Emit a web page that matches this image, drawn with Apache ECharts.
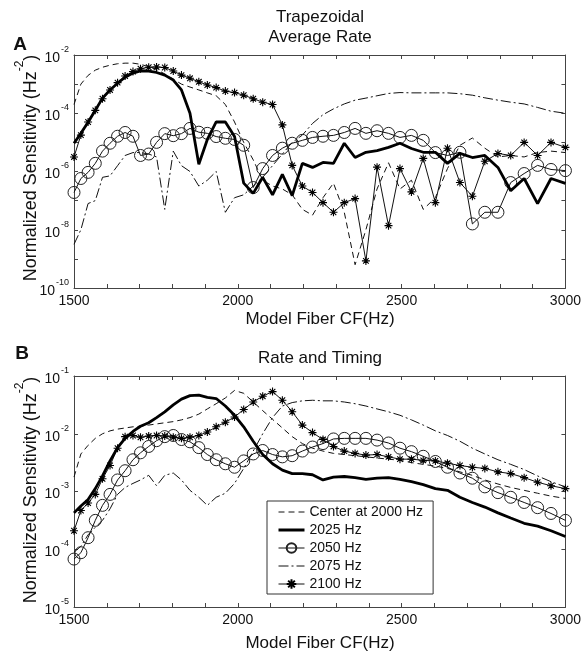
<!DOCTYPE html>
<html>
<head>
<meta charset="utf-8">
<script src="https://cdn.jsdelivr.net/npm/echarts@6/dist/echarts.min.js"></script>
<style>
  html, body { margin: 0; padding: 0; background: #fff; }
  #chart { width: 584px; height: 656px; }
</style>
</head>
<body>
<div id="chart"></div>
<script>
// Model fibre characteristic frequencies (Hz), shared by every curve
const cf = [1500,1521,1543,1565,1587,1610,1633,1656,1680,1703,1728,1752,1777,1803,1828,1854,1881,1907,1934,1962,
            1990,2018,2047,2076,2106,2136,2166,2197,2228,2260,2292,2325,2358,2391,2425,2460,2495,2530,2566,2603,
            2640,2678,2716,2754,2794,2833,2874,2915,2956,3000];

const xTicks = [1500, 2000, 2500, 3000];
const seriesNames = ['Center at 2000 Hz', '2025 Hz', '2050 Hz', '2075 Hz', '2100 Hz'];

// Panel A — trapezoidal average-rate model, log10 of normalized sensitivity (Hz^-2)
const rateCenter = [-3.7,-3.0,-2.7,-2.52,-2.42,-2.35,-2.3,-2.28,-2.28,-2.32,-2.4,-2.5,-2.65,-2.83,-3.0,-3.1,-3.2,-3.3,-3.4,-3.7,
                    -4.3,-5.0,-5.6,-6.3,-6.5,-6.6,-6.8,-7.3,-7.5,-6.9,-6.4,-7.4,-9.2,-8.0,-6.6,-5.7,-6.6,-6.3,-7.3,-6.9,
                    -5.9,-5.1,-4.85,-5.2,-5.5,-5.45,-5.5,-5.35,-5.3,-5.35];
const rate2025 = [-5.03,-4.69,-4.31,-3.9,-3.48,-3.2,-2.97,-2.76,-2.62,-2.55,-2.55,-2.6,-2.69,-2.86,-3.2,-4.0,-5.75,-4.9,-4.3,-4.3,
                  -4.8,-6.4,-6.75,-6.2,-6.8,-6.1,-6.83,-5.72,-5.86,-5.69,-5.72,-5.03,-5.52,-5.34,-5.28,-5.17,-5.03,-5.21,-5.34,-5.34,
                  -5.72,-5.38,-5.52,-5.45,-5.86,-6.66,-6.24,-7.1,-6.24,-6.41];
const rate2050 = [-6.72,-6.24,-6.03,-5.72,-5.3,-5.03,-4.79,-4.66,-4.79,-5.45,-5.4,-5.0,-4.7,-4.77,-4.7,-4.52,-4.65,-4.69,-4.8,-4.86,
                  -4.9,-5.1,-6.55,-5.9,-5.45,-5.2,-5.03,-4.93,-4.83,-4.79,-4.76,-4.66,-4.52,-4.69,-4.6,-4.69,-4.83,-4.76,-4.93,-5.35,
                  -5.45,-5.34,-7.8,-7.4,-7.4,-6.38,-6.07,-5.79,-5.93,-5.97];
const rate2075 = [-8.5,-8.0,-7.1,-7.0,-6.2,-6.15,-5.8,-5.45,-5.35,-5.35,-5.4,-5.5,-7.3,-5.3,-5.8,-6.0,-6.5,-6.3,-6.0,-7.4,
                  -6.9,-6.8,-6.5,-6.2,-5.8,-5.4,-5.0,-4.75,-4.35,-4.05,-3.85,-3.68,-3.55,-3.48,-3.4,-3.32,-3.29,-3.3,-3.3,-3.3,
                  -3.3,-3.33,-3.38,-3.47,-3.55,-3.62,-3.68,-3.8,-3.93,-4.0];
const rate2100 = [-5.5,-4.75,-4.3,-3.9,-3.5,-3.2,-2.95,-2.72,-2.57,-2.47,-2.42,-2.41,-2.43,-2.55,-2.69,-2.8,-2.92,-3.03,-3.12,-3.24,
                  -3.29,-3.38,-3.5,-3.62,-3.7,-4.4,-5.79,-6.5,-6.72,-7.07,-7.4,-7.07,-6.93,-9.07,-5.85,-7.86,-5.9,-6.7,-5.55,-7.07,
                  -5.2,-6.38,-6.85,-5.65,-5.38,-5.45,-5.0,-5.45,-5.0,-5.17];

// Panel B — rate and timing model, log10 of normalized sensitivity (Hz^-2)
const timingCenter = [-2.75,-2.35,-2.2,-2.08,-2.0,-1.95,-1.92,-1.9,-1.88,-1.87,-1.85,-1.83,-1.81,-1.79,-1.76,-1.72,-1.66,-1.57,-1.48,-1.38,
                      -1.25,-1.3,-1.45,-1.6,-1.75,-1.9,-2.05,-2.17,-2.25,-2.3,-2.34,-2.36,-2.38,-2.4,-2.42,-2.44,-2.46,-2.5,-2.53,-2.56,
                      -2.6,-2.66,-2.72,-2.8,-2.87,-2.93,-2.98,-3.03,-3.08,-3.12];
const timing2025 = [-3.37,-3.25,-3.14,-2.95,-2.73,-2.47,-2.24,-2.08,-1.96,-1.87,-1.81,-1.72,-1.62,-1.5,-1.4,-1.34,-1.33,-1.37,-1.39,-1.52,
                    -1.68,-1.88,-2.13,-2.36,-2.52,-2.63,-2.69,-2.69,-2.71,-2.8,-2.75,-2.74,-2.76,-2.79,-2.77,-2.76,-2.79,-2.83,-2.88,-2.95,
                    -2.98,-3.1,-3.19,-3.27,-3.37,-3.46,-3.55,-3.6,-3.68,-3.78];
const timing2050 = [-4.17,-4.06,-3.8,-3.5,-3.24,-3.05,-2.8,-2.64,-2.45,-2.33,-2.22,-2.12,-2.05,-2.03,-2.1,-2.14,-2.24,-2.36,-2.45,-2.52,
                    -2.58,-2.47,-2.35,-2.29,-2.36,-2.4,-2.38,-2.3,-2.23,-2.17,-2.09,-2.08,-2.08,-2.08,-2.11,-2.16,-2.25,-2.31,-2.39,-2.48,
                    -2.58,-2.68,-2.77,-2.92,-3.02,-3.1,-3.19,-3.28,-3.38,-3.5];
const timing2075 = [-4.05,-3.95,-3.75,-3.62,-3.5,-3.3,-3.05,-2.93,-2.86,-2.8,-2.72,-2.9,-2.72,-2.68,-2.8,-2.98,-3.1,-3.24,-3.1,-3.03,
                    -2.86,-2.6,-2.3,-2.0,-1.72,-1.52,-1.46,-1.43,-1.42,-1.43,-1.43,-1.45,-1.48,-1.52,-1.57,-1.62,-1.68,-1.76,-1.85,-1.95,
                    -2.03,-2.13,-2.25,-2.35,-2.45,-2.53,-2.62,-2.73,-2.83,-2.92];
const timing2100 = [-3.68,-3.33,-3.2,-3.05,-2.78,-2.55,-2.25,-2.05,-2.03,-2.06,-2.04,-2.03,-2.04,-2.06,-2.08,-2.06,-2.03,-1.97,-1.88,-1.8,
                    -1.71,-1.58,-1.45,-1.35,-1.27,-1.42,-1.62,-1.85,-1.98,-2.1,-2.22,-2.3,-2.34,-2.37,-2.36,-2.4,-2.44,-2.44,-2.46,-2.47,
                    -2.51,-2.55,-2.58,-2.6,-2.66,-2.69,-2.76,-2.84,-2.9,-2.95];

const FONT = '"Liberation Sans", Arial, Helvetica, sans-serif';
const INK = '#111';
const FRAME = '#444';
const CLEAR = 'rgba(255,255,255,0)';

// MATLAB-style asterisk marker
const ASTERISK = 'path://M0,-10L0,10M-10,0L10,0M-7,-7L7,7M-7,7L7,-7';

// Plain lines keep an invisible circle symbol so the legend shows only the stroke
const styles = [
  { lineStyle: { width: 1, type: [6, 4], color: INK }, symbol: 'circle', showSymbol: false,
    itemStyle: { color: CLEAR, borderWidth: 0 } },
  { lineStyle: { width: 2.8, color: '#000' }, symbol: 'circle', showSymbol: false,
    itemStyle: { color: CLEAR, borderWidth: 0 } },
  { lineStyle: { width: 1, color: INK }, symbol: 'circle', symbolSize: 12, showSymbol: true,
    itemStyle: { color: CLEAR, borderColor: '#222', borderWidth: 1 } },
  { lineStyle: { width: 1, type: [10, 3, 2, 3], color: INK }, symbol: 'circle', showSymbol: false,
    itemStyle: { color: CLEAR, borderWidth: 0 } },
  { lineStyle: { width: 1, color: INK }, symbol: ASTERISK, symbolSize: 8, showSymbol: true,
    itemStyle: { color: '#000', borderColor: '#000', borderWidth: 1.1 } }
];

function pairs(logVals) {
  return cf.map((f, i) => [f, Math.pow(10, logVals[i])]);
}

function makeSeries(list, axisIndex) {
  return list.map((vals, k) => Object.assign({
    name: seriesNames[k],
    type: 'line',
    xAxisIndex: axisIndex,
    yAxisIndex: axisIndex,
    data: pairs(vals),
    showAllSymbol: true,
    smooth: false,
    animation: false,
    emphasis: { disabled: true },
    z: k === 1 ? 4 : 3
  }, JSON.parse(JSON.stringify(styles[k]))));
}

const supRich = {
  b: { fontSize: 14, fontFamily: FONT, color: INK, lineHeight: 20, verticalAlign: 'bottom' },
  s: { fontSize: 9, fontFamily: FONT, color: INK, lineHeight: 20, verticalAlign: 'top', padding: [0, 0, 0, 1] }
};

function xAxes(gridIndex) {
  const common = {
    type: 'value', gridIndex, min: 1500, max: 3000, interval: 100,
    axisLine: { show: true, onZero: false, lineStyle: { color: FRAME, width: 1 } },
    axisTick: { show: true, inside: true, length: 4, lineStyle: { color: FRAME } },
    splitLine: { show: false }
  };
  return [
    Object.assign({}, common, {
      position: 'bottom',
      axisLabel: {
        show: true, margin: 6, fontSize: 14, fontFamily: FONT, color: INK,
        formatter: v => (xTicks.indexOf(v) >= 0 ? String(v) : '')
      }
    }),
    Object.assign({}, common, { position: 'top', axisLabel: { show: false } })
  ];
}

function yAxes(gridIndex, min, max, labelEvery) {
  const common = {
    type: 'log', logBase: 10, gridIndex, min, max, interval: 1,
    axisLine: { show: true, onZero: false, lineStyle: { color: FRAME, width: 1 } },
    axisTick: { show: true, inside: true, length: 4, lineStyle: { color: FRAME } },
    splitLine: { show: false }
  };
  return [
    Object.assign({}, common, {
      position: 'left',
      axisLabel: {
        show: true, margin: 5,
        formatter: v => {
          const e = Math.round(Math.log10(v));
          return (e % labelEvery === 0) ? '{b|10}{s|' + e + '}' : '';
        },
        rich: supRich
      }
    }),
    Object.assign({}, common, { position: 'right', axisLabel: { show: false } })
  ];
}

const yLabelRich = {
  a: { fontSize: 18, fontFamily: FONT, fill: INK, lineHeight: 26, verticalAlign: 'bottom' },
  s: { fontSize: 12, fontFamily: FONT, fill: INK, lineHeight: 26, verticalAlign: 'top' }
};

function txt(x, y, text, size, extra) {
  return {
    type: 'text', x, y, silent: true,
    style: Object.assign({ text, fontSize: size, fontFamily: FONT, fill: INK, align: 'center', verticalAlign: 'middle' }, extra || {})
  };
}

function yLabel(cy) {
  return {
    type: 'text', x: 27, y: cy, rotation: Math.PI / 2, silent: true,
    style: {
      text: '{a|Normalized Sensitivity (Hz}{s|-2}{a|)}',
      rich: yLabelRich, align: 'center', verticalAlign: 'middle', fill: INK
    }
  };
}

const chart = echarts.init(document.getElementById('chart'), null, { renderer: 'canvas' });

chart.setOption({
  backgroundColor: '#fff',
  animation: false,
  grid: [
    { left: 74, top: 55, width: 493, height: 233, containLabel: false },
    { left: 74, top: 376, width: 493, height: 231, containLabel: false }
  ],
  xAxis: xAxes(0).concat(xAxes(1)),
  yAxis: yAxes(0, 1e-10, 1e-2, 2).concat(yAxes(1, 1e-5, 1e-1, 1)),
  legend: {
    data: seriesNames.map(n => (n === '2025 Hz' ? { name: n, lineStyle: { width: 3 } } : { name: n })),
    orient: 'vertical',
    left: 267, top: 501,
    itemWidth: 26, itemHeight: 12, itemGap: 4,
    padding: [4, 10, 3, 10],
    backgroundColor: '#fff',
    borderColor: '#333', borderWidth: 1,
    lineStyle: { width: 1 },
    textStyle: { fontSize: 14, fontFamily: FONT, color: INK },
    selectedMode: false
  },
  series: makeSeries([rateCenter, rate2025, rate2050, rate2075, rate2100], 0)
    .concat(makeSeries([timingCenter, timing2025, timing2050, timing2075, timing2100], 2)),
  graphic: [
    txt(320, 17, 'Trapezoidal', 17),
    txt(320, 37, 'Average Rate', 17),
    txt(20, 45, 'A', 19, { fontWeight: 'bold' }),
    txt(320, 319, 'Model Fiber CF(Hz)', 17),
    yLabel(168),
    txt(320, 358, 'Rate and Timing', 17),
    txt(22, 354, 'B', 19, { fontWeight: 'bold' }),
    txt(320, 643, 'Model Fiber CF(Hz)', 17),
    yLabel(490)
  ]
});
</script>
</body>
</html>
